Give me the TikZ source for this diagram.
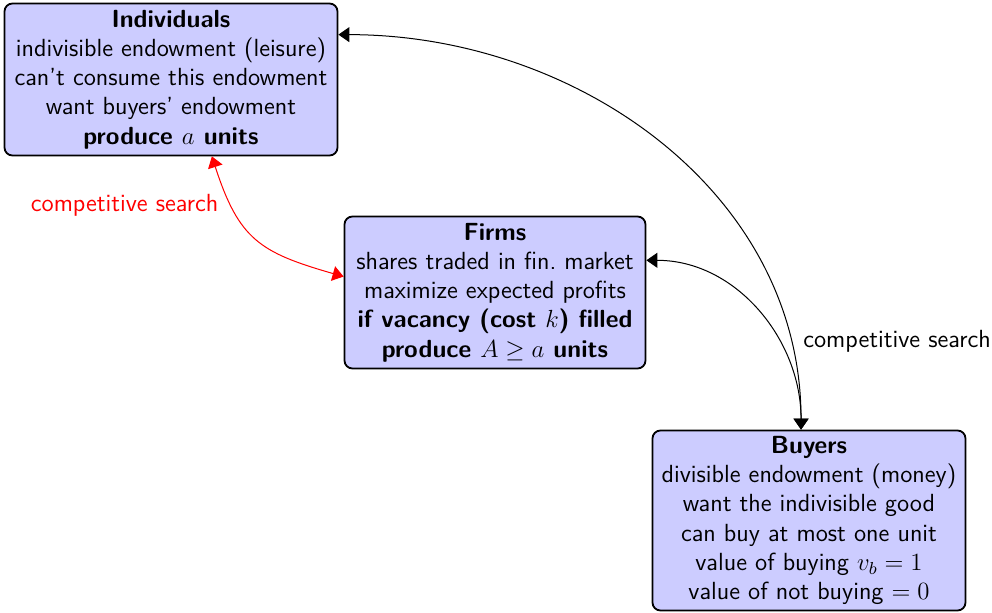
\RequirePackage{fix-cm}
\documentclass[tikz,border=0pt]{standalone}
\usetikzlibrary{arrows.meta}
\begin{document}
\begin{tikzpicture}[x=0.5pt,y=0.5pt,
  txt/.style={font=\sffamily\fontsize{12.4}{14.6}\selectfont},
  box/.style={txt, draw=black, line width=0.9pt, fill=blue!20, rounded corners=4pt, align=center, inner sep=0pt},
  link/.style={line width=0.5pt, {Triangle[length=5.5pt,width=7.5pt]}-{Triangle[length=5.5pt,width=7.5pt]}}]
\useasboundingbox (0,0) rectangle (992,-613);
\node[box, minimum width=166.5pt, minimum height=76pt] (ind) at (171,-79.5)
  {\textbf{Individuals}\\indivisible endowment (leisure)\\can't consume this endowment\\want buyers' endowment\\\textbf{produce $a$ units}};
\node[box, minimum width=150.5pt, minimum height=76pt] (firm) at (495,-292.5)
  {\textbf{Firms}\\shares traded in fin.\ market\\maximize expected profits\\\textbf{if vacancy (cost $k$) filled}\\\textbf{produce $A\geq a$ units}};
\node[box, minimum width=156.5pt, minimum height=90pt] (buy) at (809,-520.5)
  {\textbf{Buyers}\\divisible endowment (money)\\want the indivisible good\\can buy at most one unit\\value of buying $v_b=1$\\value of not buying $=0$};
\draw[link] (buy.95.6) to[out=90,in=0] node[txt, right, pos=0.13, xshift=3pt]{competitive search} (ind.15.6);
\draw[link] (buy.95.6) to[out=90,in=0] (firm.12.2);
\draw[link, red] (ind.-62.5) to[out=-72,in=164,looseness=1.25] node[txt, left, pos=0.22, xshift=-2pt, yshift=-1.5pt]{competitive search} (firm.174.5);
\end{tikzpicture}
\end{document}
